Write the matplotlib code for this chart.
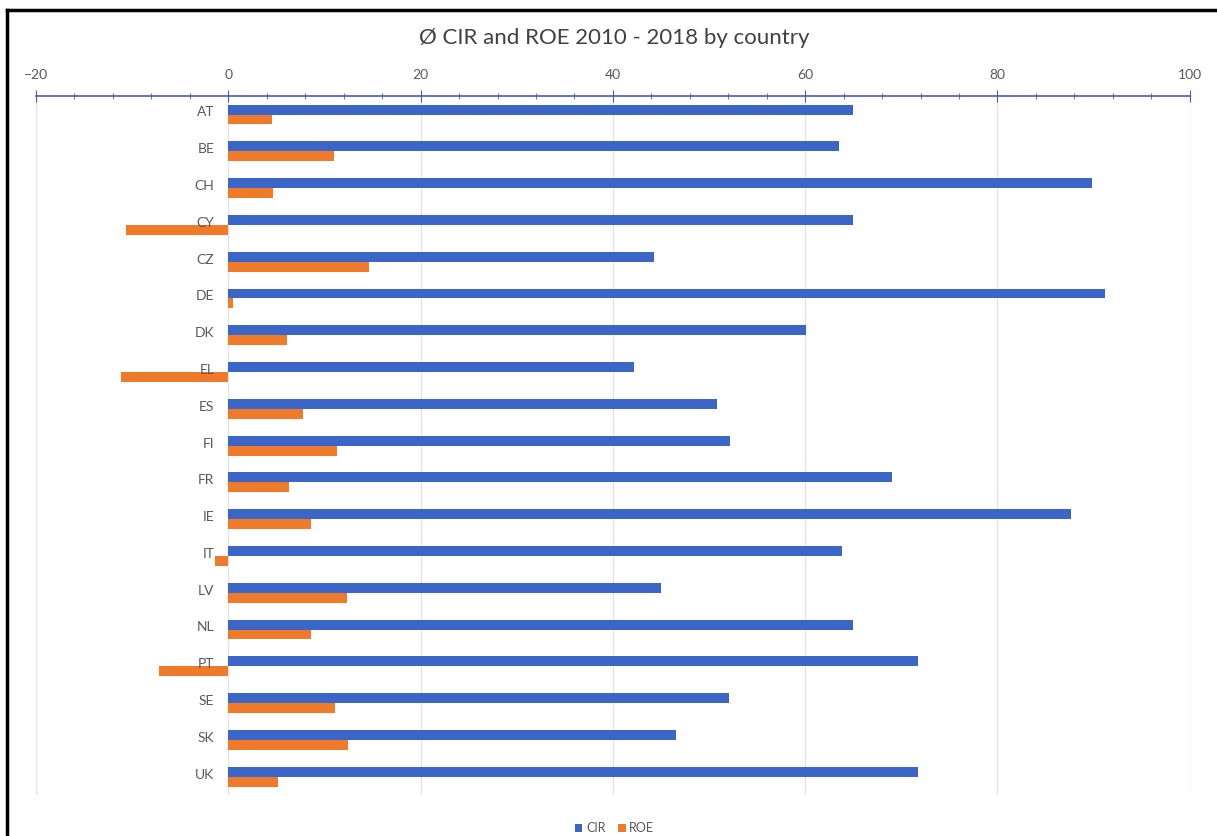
import matplotlib.pyplot as plt
import numpy as np
from matplotlib.lines import Line2D
from matplotlib.ticker import MultipleLocator
from matplotlib.transforms import offset_copy

countries = ['AT', 'BE', 'CH', 'CY', 'CZ', 'DE', 'DK', 'EL', 'ES', 'FI',
             'FR', 'IE', 'IT', 'LV', 'NL', 'PT', 'SE', 'SK', 'UK']
cir = [65.0, 63.5, 89.8, 65.0, 44.3, 91.2, 60.1, 42.2, 50.8, 52.2,
       69.0, 87.6, 63.8, 45.0, 65.0, 71.7, 52.1, 46.6, 71.7]
roe = [4.5, 11.0, 4.6, -10.6, 14.6, 0.5, 6.1, -11.2, 7.8, 11.3,
       6.3, 8.6, -1.4, 12.3, 8.6, -7.2, 11.1, 12.5, 5.2]

blue = '#3B66C8'
orange = '#EE7A2A'
grey = '#595959'

plt.rcParams['font.family'] = ['Lato', 'DejaVu Sans']

fig = plt.figure(figsize=(12.17, 8.36), dpi=100)
ax = fig.add_axes([0.0296, 0.049, 0.948, 0.836])

y = np.arange(len(countries))
h = 0.27
ax.barh(y - h / 2, cir, height=h, color=blue, label='CIR', zorder=3)
ax.barh(y + h / 2, roe, height=h, color=orange, label='ROE', zorder=3)

ax.set_xlim(-20, 100)
ax.set_ylim(len(countries) - 0.5, -0.5)

# value axis on top, Excel style
ax.xaxis.tick_top()
ax.xaxis.set_major_locator(MultipleLocator(20))
ax.xaxis.set_minor_locator(MultipleLocator(4))
ax.tick_params(axis='x', which='major', direction='inout', length=8,
               color='#4A5AC0', labelcolor=grey, labelsize=10, pad=7)
ax.tick_params(axis='x', which='minor', direction='inout', length=4,
               color='#4A5AC0')
ax.grid(axis='x', which='major', color='#E3E3E3', linewidth=1, zorder=0)

# category labels sit at zero, drawn over the negative bars
ax.set_yticks([])
lbl_tf = offset_copy(ax.transData, fig=fig, x=-10, y=1.5, units='points')
for yi, name in zip(y, countries):
    ax.text(0, yi, name, transform=lbl_tf, ha='right', va='center',
            fontsize=10, color=grey, zorder=5)

for s in ['left', 'right', 'bottom']:
    ax.spines[s].set_visible(False)
ax.spines['top'].set_color('#4A5AC0')
ax.spines['top'].set_linewidth(1.2)

fig.text(0.505, 0.955, 'Ø CIR and ROE 2010 - 2018 by country',
         ha='center', va='center', fontsize=16, color='#404040')

fig.legend(loc='center', bbox_to_anchor=(0.505, 0.009), ncol=2, frameon=False,
           fontsize=9, labelcolor=grey, handlelength=0.6, handleheight=0.6,
           handletextpad=0.3, columnspacing=1.0)

# black frame on top and left like the screenshot
fig.add_artist(Line2D([0.0057, 1.0], [0.988, 0.988], color='black', lw=2.5,
                      transform=fig.transFigure))
fig.add_artist(Line2D([0.0057, 0.0057], [0.0, 0.988], color='black', lw=2.5,
                      transform=fig.transFigure))

fig.savefig('out.png', dpi=100)
